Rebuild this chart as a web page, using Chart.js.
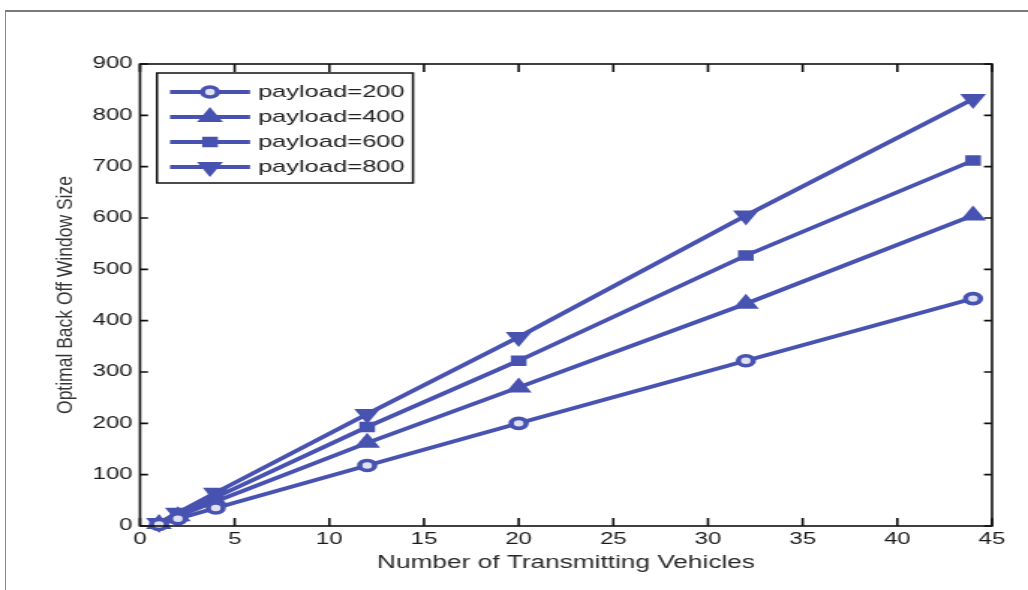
<!DOCTYPE html>
<html>
<head>
<meta charset="utf-8">
<script src="https://cdn.jsdelivr.net/npm/chart.js@4/dist/chart.umd.min.js"></script>
<style>
  html, body { margin: 0; padding: 0; background: #fff; }
  #page { position: relative; width: 1028px; height: 590px; overflow: hidden; }
  #frame { position: absolute; left: 5px; top: 10px; width: 1100px; height: 700px;
           border-top: 2px solid #7a7a7a; border-left: 1px solid #8a8a8a; }
  /* the plot is drawn narrow and widened on screen */
  #wrap { position: absolute; left: 0; top: 0; width: 686px; height: 590px;
          transform-origin: 0 0; transform: scaleX(1.4985); }
</style>
</head>
<body>
<div id="page">
  <div id="frame"></div>
  <div id="wrap"><canvas id="chart"></canvas></div>
</div>
<script>
// Data
const vehicles = [1, 2, 4, 12, 20, 32, 44];
const payload200 = [3, 14, 35, 118, 200, 322, 443];
const payload400 = [4, 19, 48, 162, 270, 433, 605];
const payload600 = [5, 22, 56, 193, 322, 527, 712];
const payload800 = [6, 26, 65, 218, 368, 605, 832];
const seriesNames = ['payload=200', 'payload=400', 'payload=600', 'payload=800'];
const xTicks = [0, 5, 10, 15, 20, 25, 30, 35, 40, 45];
const yTicks = [0, 100, 200, 300, 400, 500, 600, 700, 800, 900];

const stretch = 1028 / 686;
const lineColor = '#4852B0';
const fontFamily = '"Liberation Sans", Arial, sans-serif';

function points(values) {
  return vehicles.map((v, i) => ({ x: v, y: values[i] }));
}

const markers = [
  { pointStyle: 'circle', pointRadius: 5, pointBorderWidth: 3.6, pointRotation: 0, pointBackgroundColor: '#dfe1f3' },
  { pointStyle: 'triangle', pointRadius: 8.5, pointBorderWidth: 1.5, pointRotation: 0, pointBackgroundColor: lineColor },
  { pointStyle: 'rect', pointRadius: 6, pointBorderWidth: 2, pointRotation: 0, pointBackgroundColor: lineColor },
  { pointStyle: 'triangle', pointRadius: 8.5, pointBorderWidth: 1.5, pointRotation: 180, pointBackgroundColor: lineColor }
];

const datasets = [payload200, payload400, payload600, payload800].map((vals, i) => Object.assign({
  label: seriesNames[i],
  data: points(vals),
  showLine: true,
  borderColor: lineColor,
  pointBorderColor: lineColor,
  borderWidth: 3.8,
  tension: 0,
  clip: false
}, markers[i]));

// Box around the plot with inward ticks on all four sides
const axisBox = {
  id: 'axisBox',
  afterDraw(chart) {
    const { ctx, chartArea: a, scales: { x, y } } = chart;
    ctx.save();
    ctx.strokeStyle = '#111';
    ctx.lineWidth = 1.6;
    ctx.strokeRect(a.left, a.top, a.right - a.left, a.bottom - a.top);
    ctx.beginPath();
    xTicks.forEach(t => {
      const px = x.getPixelForValue(t);
      ctx.moveTo(px, a.bottom); ctx.lineTo(px, a.bottom - 8);
      ctx.moveTo(px, a.top); ctx.lineTo(px, a.top + 8);
    });
    const tl = 8 / stretch;
    yTicks.forEach(t => {
      const py = y.getPixelForValue(t);
      ctx.moveTo(a.left, py); ctx.lineTo(a.left + tl, py);
      ctx.moveTo(a.right, py); ctx.lineTo(a.right - tl, py);
    });
    ctx.stroke();

    // y axis title, only partly widened on screen
    ctx.translate(44, (a.top + a.bottom) / 2);
    ctx.scale(1.3 / stretch, 1);
    ctx.rotate(-Math.PI / 2);
    ctx.fillStyle = '#333';
    ctx.font = '17.5px ' + fontFamily;
    ctx.textAlign = 'center';
    ctx.textBaseline = 'middle';
    ctx.fillText('Optimal Back Off Window Size', 0, 0);
    ctx.restore();
  }
};

// Legend inside the upper left corner of the plot
const insideLegend = {
  id: 'insideLegend',
  afterDraw(chart) {
    const { ctx } = chart;
    const left = 157 / stretch, right = 413 / stretch, top = 73, bottom = 183;
    ctx.save();
    ctx.fillStyle = '#fff';
    ctx.fillRect(left, top, right - left, bottom - top);
    ctx.strokeStyle = '#111';
    ctx.lineWidth = 1.5;
    ctx.strokeRect(left, top, right - left, bottom - top);
    ctx.font = '17px ' + fontFamily;
    ctx.textBaseline = 'middle';
    ctx.textAlign = 'left';
    chart.data.datasets.forEach((ds, i) => {
      const cy = 92 + i * 25;
      const x0 = 170 / stretch, x1 = 250 / stretch, xm = (x0 + x1) / 2;
      ctx.strokeStyle = ds.borderColor;
      ctx.lineWidth = ds.borderWidth;
      ctx.beginPath();
      ctx.moveTo(x0, cy); ctx.lineTo(x1, cy);
      ctx.stroke();
      ctx.fillStyle = ds.pointBackgroundColor;
      ctx.strokeStyle = ds.pointBorderColor;
      ctx.lineWidth = ds.pointBorderWidth;
      Chart.helpers.drawPoint(ctx, {
        pointStyle: ds.pointStyle,
        rotation: ds.pointRotation,
        radius: ds.pointRadius,
        borderWidth: ds.pointBorderWidth
      }, xm, cy);
      ctx.fillStyle = '#222';
      ctx.fillText(ds.label, 258 / stretch, cy);
    });
    ctx.restore();
  }
};

new Chart(document.getElementById('chart'), {
  type: 'scatter',
  data: { datasets: datasets },
  options: {
    responsive: true,
    maintainAspectRatio: false,
    animation: false,
    devicePixelRatio: 1,
    layout: { padding: { left: 0, right: 686 - 992 / stretch, top: 64, bottom: 0 } },
    plugins: { legend: { display: false }, tooltip: { enabled: false } },
    scales: {
      x: {
        type: 'linear', min: 0, max: 45,
        afterFit: s => { s.height = 64; },
        grid: { display: false, drawTicks: false },
        border: { display: false },
        ticks: { stepSize: 5, padding: 4, color: '#1a1a1a', font: { family: fontFamily, size: 16 } },
        title: {
          display: true, text: 'Number of Transmitting Vehicles', color: '#2a2a2a',
          font: { family: fontFamily, size: 17.5 }, padding: { top: 0, bottom: 16 }
        }
      },
      y: {
        type: 'linear', min: 0, max: 900,
        afterFit: s => { s.width = 140 / stretch; },
        grid: { display: false, drawTicks: false },
        border: { display: false },
        ticks: { stepSize: 100, padding: 5, color: '#1a1a1a', font: { family: fontFamily, size: 16 } }
      }
    }
  },
  plugins: [axisBox, insideLegend]
});
</script>
</body>
</html>
